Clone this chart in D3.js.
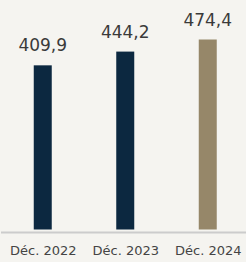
<!DOCTYPE html>
<html lang="fr">
<head>
    <meta charset="utf-8"/>
    <title>Évolution</title>
    <script src="https://d3js.org/d3.v7.min.js"></script>
    <style>
        html, body { margin: 0; padding: 0; background: #f5f4f0; }
        #chart { width: 246px; height: 262px; }
    </style>
</head>
<body>
    <div id="chart"></div>

    <script>
        const categories = ["Déc. 2022", "Déc. 2023", "Déc. 2024"];
        const values = [409.9, 444.2, 474.4];
        const valueLabels = ["409,9", "444,2", "474,4"];
        const barColors = ["#0c2840", "#0c2840", "#968769"];

        const width = 246, height = 262;
        const baseY = 229.5;

        const svg = d3.select('#chart')
            .append('svg')
            .attr('width', width)
            .attr('height', height);

        const x = d3.scalePoint()
            .domain(categories)
            .range([1.5, 249])
            .padding(0.5);

        const y = d3.scaleLinear()
            .domain([0, 474.4])
            .range([baseY, 39.5]);

        const barW = 18;
        const data = categories.map((c, i) => ({ c, v: values[i], label: valueLabels[i], color: barColors[i] }));

        // bars
        svg.selectAll('.bar')
            .data(data)
            .enter().append('rect')
            .attr('class', 'bar')
            .attr('x', d => x(d.c) - barW / 2)
            .attr('y', d => y(d.v))
            .attr('width', barW)
            .attr('height', d => baseY - y(d.v))
            .attr('fill', d => d.color);

        // axis line + labels
        const axis = svg.append('g')
            .attr('transform', `translate(0,${baseY + 3})`)
            .call(d3.axisBottom(x).tickSize(0).tickPadding(13));
        axis.select('.domain')
            .attr('d', `M1,0H${width}`)
            .attr('stroke', '#cccccc')
            .attr('stroke-width', 2);
        axis.selectAll('text')
            .attr('fill', '#444444')
            .style('font-family', '"DejaVu Sans", sans-serif')
            .style('font-size', '13px');

        // value labels
        svg.selectAll('.label')
            .data(data)
            .enter().append('text')
            .attr('class', 'label')
            .attr('x', d => x(d.c))
            .attr('y', d => y(d.v) - 14)
            .attr('text-anchor', 'middle')
            .attr('fill', '#3a3a3a')
            .style('font-family', '"DejaVu Sans", sans-serif')
            .style('font-size', '17px')
            .text(d => d.label);
    </script>
</body>
</html>
